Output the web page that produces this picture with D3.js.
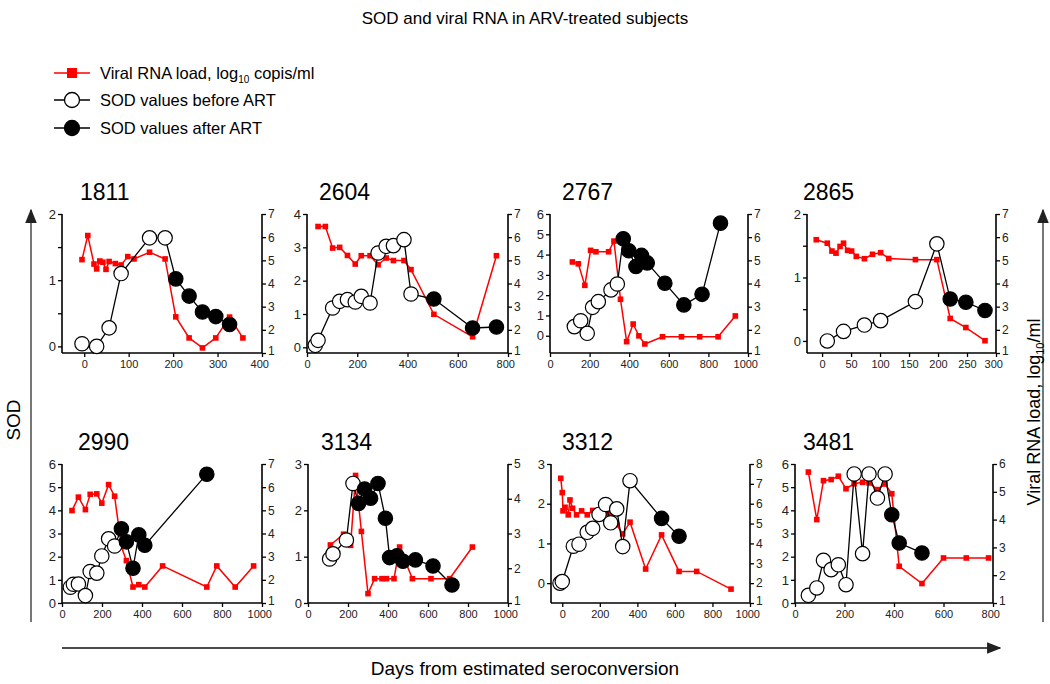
<!DOCTYPE html>
<html><head><meta charset="utf-8">
<script src="https://cdn.jsdelivr.net/npm/d3@7"></script>
<style>
html,body{margin:0;padding:0;background:#fff;}
svg{display:block;font-family:"Liberation Sans",Arial,sans-serif;}
</style></head>
<body><svg id="c" width="1050" height="684"></svg>
<script>
// ---------------- DATA ----------------
const panelIds = ["1811","2604","2767","2865","2990","3134","3312","3481"];

// 1811
const d1811_preDays  = [-5, 28, 56, 83, 147, 182];
const d1811_preSOD   = [0.04, 0.0, 0.28, 1.1, 1.64, 1.64];
const d1811_postDays = [206, 236, 266, 296, 327];
const d1811_postSOD  = [1.02, 0.76, 0.52, 0.45, 0.33];
const d1811_vlDays   = [-5, 8, 22, 28, 35, 42, 49, 56, 70, 83, 98, 112, 147, 182, 206, 236, 266, 296, 327, 357];
const d1811_vl       = [5.03, 6.07, 4.84, 4.63, 4.97, 4.92, 4.61, 4.95, 4.86, 4.8, 5.16, 5.06, 5.35, 5.06, 2.56, 1.65, 1.22, 1.65, 2.55, 1.65];

// 2604
const d2604_preDays  = [33, 44, 102, 130, 161, 192, 216, 251, 283, 315, 344, 386, 414];
const d2604_preSOD   = [0.06, 0.21, 1.18, 1.38, 1.43, 1.36, 1.53, 1.33, 2.83, 3.03, 3.05, 3.23, 1.6];
const d2604_postDays = [505, 659, 754];
const d2604_postSOD  = [1.45, 0.58, 0.61];
const d2604_vlDays   = [44, 73, 102, 130, 161, 192, 216, 251, 283, 315, 344, 386, 414, 505, 659, 754];
const d2604_vl       = [6.46, 6.46, 5.53, 5.56, 5.21, 4.84, 5.2, 5.2, 4.81, 5.1, 4.99, 4.99, 4.6, 2.67, 1.7, 5.2];

// 2767
const d2767_preDays  = [123, 155, 188, 215, 244, 308, 340];
const d2767_preSOD   = [0.45, 0.74, 0.12, 1.4, 1.68, 2.26, 2.55];
const d2767_postDays = [370, 398, 434, 462, 491, 580, 676, 768, 861];
const d2767_postSOD  = [4.78, 4.19, 3.41, 3.96, 3.59, 2.59, 1.52, 2.04, 5.55];
const d2767_vlDays   = [113, 143, 176, 205, 232, 296, 323, 356, 387, 420, 449, 479, 568, 664, 756, 849, 936];
const d2767_vl       = [4.93, 4.85, 3.92, 5.43, 5.37, 5.37, 5.83, 3.32, 1.49, 2.25, 1.74, 1.39, 1.7, 1.7, 1.7, 1.7, 2.6];

// 2865
const d2865_preDays  = [9, 37, 73, 101, 161, 198];
const d2865_preSOD   = [0.0, 0.15, 0.25, 0.32, 0.62, 1.53];
const d2865_postDays = [221, 248, 281];
const d2865_postSOD  = [0.66, 0.61, 0.48];
const d2865_vlDays   = [-10, 9, 17, 24, 31, 37, 44, 51, 59, 73, 87, 101, 115, 161, 198, 221, 248, 281];
const d2865_vl       = [5.89, 5.74, 5.4, 5.31, 5.6, 5.74, 5.43, 5.4, 5.17, 5.07, 5.26, 5.33, 5.08, 5.03, 5.03, 2.49, 2.1, 1.53];

// 2990
const d2990_preDays  = [42, 57, 82, 117, 141, 174, 199, 233, 263];
const d2990_preSOD   = [0.68, 0.81, 0.82, 0.32, 1.36, 1.29, 2.03, 2.77, 2.46];
const d2990_postDays = [297, 322, 355, 384, 414, 724];
const d2990_postSOD  = [3.2, 2.64, 1.5, 2.94, 2.49, 5.56];
const d2990_vlDays   = [50, 82, 117, 141, 174, 199, 233, 263, 297, 322, 355, 384, 414, 503, 724, 774, 866, 958];
const d2990_vl       = [4.99, 5.57, 5.03, 5.69, 5.71, 5.31, 6.11, 5.61, 3.43, 2.83, 1.69, 1.79, 1.69, 2.6, 1.69, 2.6, 1.69, 2.6];

// 3134
const d3134_preDays  = [108, 125, 192, 225];
const d3134_preSOD   = [0.95, 1.06, 1.36, 2.58];
const d3134_postDays = [253, 283, 313, 350, 387, 408, 445, 475, 537, 625, 720];
const d3134_postSOD  = [2.15, 2.46, 2.26, 2.58, 1.83, 0.98, 1.02, 0.9, 0.93, 0.8, 0.39];
const d3134_vlDays   = [112, 178, 213, 238, 267, 300, 333, 370, 392, 430, 458, 522, 615, 708, 822];
const d3134_vl       = [2.67, 2.98, 2.66, 4.67, 3.06, 1.27, 1.7, 1.7, 1.7, 1.7, 2.61, 1.7, 1.7, 1.7, 2.61];

// 3312
const d3312_preDays  = [-12, 0, 59, 89, 133, 162, 196, 231, 258, 290, 322, 361];
const d3312_preSOD   = [0.0, 0.04, 0.93, 0.98, 1.28, 1.38, 1.73, 1.98, 1.52, 1.87, 0.92, 2.58];
const d3312_postDays = [529, 622];
const d3312_postSOD  = [1.63, 1.18];
const d3312_vlDays   = [-8, 0, 4, 15, 32, 41, 55, 76, 103, 133, 162, 196, 231, 258, 290, 322, 361, 444, 529, 622, 716, 899];
const d3312_vl       = [7.28, 6.56, 5.64, 5.82, 5.44, 6.19, 5.77, 5.44, 5.64, 5.44, 5.66, 5.27, 5.52, 5.52, 4.94, 4.48, 5.07, 2.71, 4.43, 2.59, 2.59, 1.7];

// 3481
const d3481_preDays  = [54, 88, 115, 146, 175, 206, 239, 273, 299, 333, 364];
const d3481_preSOD   = [0.33, 0.65, 1.84, 1.44, 1.65, 0.79, 5.57, 2.13, 5.57, 4.53, 5.57];
const d3481_postDays = [391, 421, 513];
const d3481_postSOD  = [3.81, 2.59, 2.16];
const d3481_vlDays   = [54, 88, 115, 146, 175, 206, 239, 273, 299, 333, 364, 391, 421, 513, 600, 692, 782];
const d3481_vl       = [5.71, 4.0, 5.4, 5.44, 5.56, 5.11, 5.29, 5.34, 5.32, 5.08, 5.28, 4.93, 2.32, 1.7, 2.62, 2.62, 2.62];

// axis domains and tick labels
const xDomains   = [[-50,400],[0,800],[0,1000],[-26,300],[0,1000],[0,1000],[-60,1000],[0,800]];
const xTickVals  = [[0,100,200,300,400],[0,200,400,600,800],[0,200,400,600,800,1000],[0,50,100,150,200,250,300],
                    [0,200,400,600,800,1000],[0,200,400,600,800,1000],[0,200,400,600,800,1000],[0,200,400,600,800]];
const sodDomains = [[-0.1,2],[-0.17,4],[-0.85,6],[-0.19,2],[0,6],[0,3],[-0.5,3],[0,6]];
const sodTickVals= [[0,1,2],[0,1,2,3,4],[0,1,2,3,4,5,6],[0,1,2],[0,1,2,3,4,5,6],[0,1,2,3],[0,1,2,3],[0,1,2,3,4,5,6]];
const sodMinor   = [[0.5,1.5],[],[],[0.5,1.5],[],[],[],[]];
const vlDomains  = [[1,7],[1,7],[1,7],[1,7],[1,7],[1,5],[1,8],[1,6]];

const allData = {
  "1811":[d1811_preDays,d1811_preSOD,d1811_postDays,d1811_postSOD,d1811_vlDays,d1811_vl],
  "2604":[d2604_preDays,d2604_preSOD,d2604_postDays,d2604_postSOD,d2604_vlDays,d2604_vl],
  "2767":[d2767_preDays,d2767_preSOD,d2767_postDays,d2767_postSOD,d2767_vlDays,d2767_vl],
  "2865":[d2865_preDays,d2865_preSOD,d2865_postDays,d2865_postSOD,d2865_vlDays,d2865_vl],
  "2990":[d2990_preDays,d2990_preSOD,d2990_postDays,d2990_postSOD,d2990_vlDays,d2990_vl],
  "3134":[d3134_preDays,d3134_preSOD,d3134_postDays,d3134_postSOD,d3134_vlDays,d3134_vl],
  "3312":[d3312_preDays,d3312_preSOD,d3312_postDays,d3312_postSOD,d3312_vlDays,d3312_vl],
  "3481":[d3481_preDays,d3481_preSOD,d3481_postDays,d3481_postSOD,d3481_vlDays,d3481_vl]
};

// ---------------- LAYOUT ----------------
const boxes = [
  {l:62, r:262, t:214, b:353, tx:80},
  {l:307,r:508, t:214, b:353, tx:319},
  {l:550,r:748, t:214, b:353, tx:562},
  {l:807,r:996, t:214, b:353, tx:803},
  {l:62, r:262, t:464, b:603, tx:78},
  {l:308,r:508, t:464, b:603, tx:321},
  {l:551,r:750, t:464, b:603, tx:562},
  {l:795,r:993, t:464, b:603, tx:803}
];
const RED = "#ff0000";
const fmtInt = d3.format("d");
const svg = d3.select("#c");

// title
svg.append("text").attr("x",525).attr("y",24).attr("text-anchor","middle")
  .attr("font-size",17).text("SOD and viral RNA in ARV-treated subjects");

// legend
const lg = svg.append("g");
const legRows = [{y:73,type:"vl",label:"Viral RNA load, log"},{y:100,type:"pre",label:"SOD values before ART"},{y:128,type:"post",label:"SOD values after ART"}];
legRows.forEach(r=>{
  lg.append("line").attr("x1",54).attr("x2",90).attr("y1",r.y).attr("y2",r.y)
    .attr("stroke", r.type==="vl"?RED:"#000").attr("stroke-width",1.5);
  if(r.type==="vl"){
    lg.append("rect").attr("x",67).attr("y",r.y-5).attr("width",10).attr("height",10).attr("fill",RED);
  } else {
    lg.append("circle").attr("cx",72).attr("cy",r.y).attr("r",7.5)
      .attr("fill",r.type==="pre"?"#fff":"#000").attr("stroke","#000").attr("stroke-width",1.3);
  }
  const t = lg.append("text").attr("x",100).attr("y",r.y+6).attr("font-size",16.5).text(r.label);
  if(r.type==="vl"){
    t.append("tspan").attr("dy",4).attr("font-size",10).text("10");
    t.append("tspan").attr("dy",-4).text(" copis/ml");
  }
});

// panels
panelIds.forEach((id,i)=>{
  const bx = boxes[i];
  const [preD,preS,postD,postS,vlD,vl] = allData[id];
  const x  = d3.scaleLinear().domain(xDomains[i]).range([bx.l,bx.r]);
  const yL = d3.scaleLinear().domain(sodDomains[i]).range([bx.b,bx.t]);
  const yR = d3.scaleLinear().domain(vlDomains[i]).range([bx.b,bx.t]);
  const g = svg.append("g");

  g.append("text").attr("x",bx.tx).attr("y",bx.t-14).attr("font-size",23).text(id);

  const ax = g.append("g").attr("transform",`translate(0,${bx.b})`)
    .call(d3.axisBottom(x).tickValues(xTickVals[i]).tickSize(4).tickSizeOuter(0).tickPadding(3).tickFormat(fmtInt));
  const vlTicks = d3.range(vlDomains[i][0], vlDomains[i][1]+1);
  const ayL = g.append("g").attr("transform",`translate(${bx.l},0)`)
    .call(d3.axisLeft(yL).tickValues(sodTickVals[i].concat(sodMinor[i])).tickSize(4).tickSizeOuter(0).tickPadding(2)
      .tickFormat(v=>Number.isInteger(v)?fmtInt(v):""));
  const ayR = g.append("g").attr("transform",`translate(${bx.r},0)`)
    .call(d3.axisRight(yR).tickValues(vlTicks).tickSize(4).tickSizeOuter(0).tickPadding(2).tickFormat(fmtInt));
  [ax,ayL,ayR].forEach(a=>{
    a.selectAll("path.domain").attr("stroke","#000").attr("stroke-width",1.6);
    a.selectAll(".tick line").attr("stroke","#000").attr("stroke-width",1.3);
    a.selectAll("text").attr("fill","#222").attr("font-family","Liberation Sans, Arial, sans-serif");
  });
  ax.selectAll("text").attr("font-size",11);
  ayL.selectAll("text").attr("font-size",13);
  ayR.selectAll("text").attr("font-size",12);
  // keep the lowest right-axis label clear of the last x label at the corner
  ayR.selectAll(".tick text").filter(v=>v===vlDomains[i][0]).attr("dy","0.1em");
  ax.selectAll(".tick text").filter(v=>v===xDomains[i][1]).attr("dx","-0.25em");
  ax.select("path.domain").attr("d",`M${bx.l},0H${bx.r}`);
  ayL.select("path.domain").attr("d",`M0,${bx.b}V${bx.t}`);
  ayR.select("path.domain").attr("d",`M0,${bx.b}V${bx.t}`);

  // viral load (red)
  const vlPts = vlD.map((d,k)=>[d,vl[k]]);
  g.append("path").datum(vlPts)
    .attr("d",d3.line().x(p=>x(p[0])).y(p=>yR(p[1])))
    .attr("fill","none").attr("stroke",RED).attr("stroke-width",1.5);
  g.selectAll(".vl").data(vlPts).enter().append("rect")
    .attr("x",p=>x(p[0])-2.8).attr("y",p=>yR(p[1])-2.8).attr("width",5.6).attr("height",5.6).attr("fill",RED);

  // SOD (black)
  const sodPts = preD.map((d,k)=>[d,preS[k],0]).concat(postD.map((d,k)=>[d,postS[k],1]));
  g.append("path").datum(sodPts)
    .attr("d",d3.line().x(p=>x(p[0])).y(p=>yL(p[1])))
    .attr("fill","none").attr("stroke","#000").attr("stroke-width",1.3);
  g.selectAll(".sod").data(sodPts).enter().append("circle")
    .attr("cx",p=>x(p[0])).attr("cy",p=>yL(p[1])).attr("r",7.2)
    .attr("fill",p=>p[2]?"#000":"#fff").attr("stroke","#000").attr("stroke-width",1.2);
});

// outer axes arrows
const defs = svg.append("defs");
defs.append("marker").attr("id","arr").attr("viewBox","0 0 10 10").attr("refX",9).attr("refY",5)
  .attr("markerWidth",9).attr("markerHeight",9).attr("orient","auto")
  .append("path").attr("d","M0,1 L10,5 L0,9 Z").attr("fill","#222");
svg.append("line").attr("x1",31).attr("y1",622).attr("x2",31).attr("y2",210)
  .attr("stroke","#555").attr("stroke-width",1.6).attr("marker-end","url(#arr)");
svg.append("line").attr("x1",1043).attr("y1",622).attr("x2",1043).attr("y2",210)
  .attr("stroke","#555").attr("stroke-width",1.6).attr("marker-end","url(#arr)");
svg.append("line").attr("x1",62).attr("y1",648).attr("x2",1000).attr("y2",648)
  .attr("stroke","#111").attr("stroke-width",1.6).attr("marker-end","url(#arr)");

svg.append("text").attr("transform","translate(20,420) rotate(-90)").attr("text-anchor","middle")
  .attr("font-size",19).text("SOD");
const rt = svg.append("text").attr("transform","translate(1040,412) rotate(-90)").attr("text-anchor","middle")
  .attr("font-size",18).text("Viral RNA load, log");
rt.append("tspan").attr("dy",4).attr("font-size",11).text("10");
rt.append("tspan").attr("dy",-4).text("/ml");
svg.append("text").attr("x",525).attr("y",675).attr("text-anchor","middle")
  .attr("font-size",19).text("Days from estimated seroconversion");
</script></body></html>
